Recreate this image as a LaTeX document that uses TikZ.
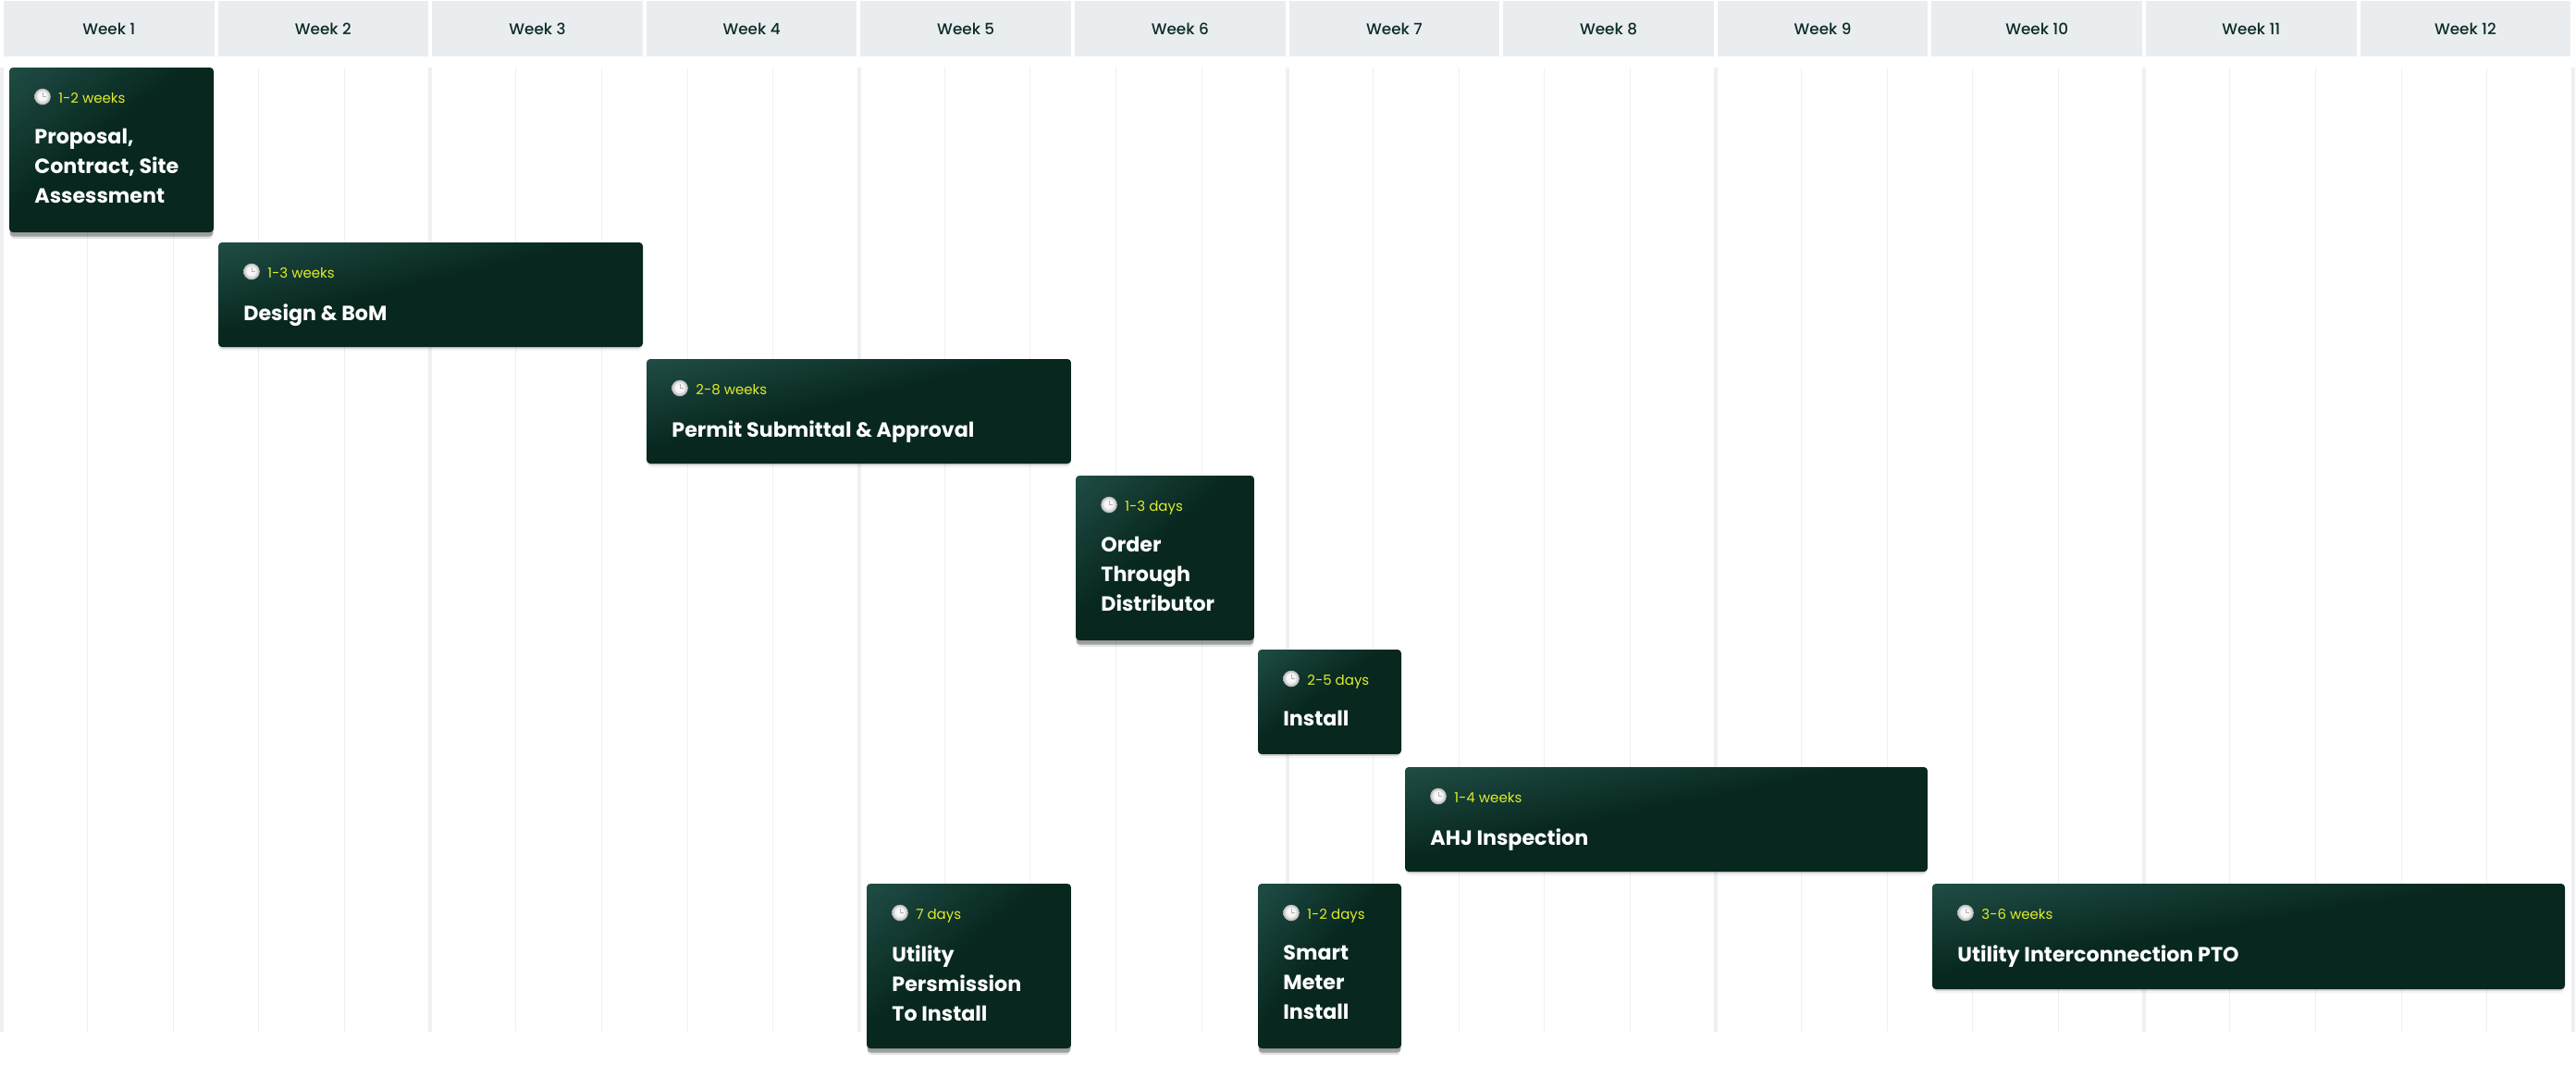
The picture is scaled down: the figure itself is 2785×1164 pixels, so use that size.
\documentclass[tikz,border=0pt]{standalone}
\usepackage{fontspec}
\setmainfont{Poppins}
\newfontfamily\boldf{Poppins Bold}
\newfontfamily\medf{Poppins Medium}
\definecolor{hdr}{HTML}{EAEDF0}
\definecolor{hdrtext}{HTML}{0C2C26}
\definecolor{gridc}{HTML}{EEF0F3}
\definecolor{cardA}{HTML}{1F4C44}
\definecolor{cardB}{HTML}{07271F}
\definecolor{durc}{HTML}{E2EC2A}
\pgfdeclarehorizontalshading{cardgrad}{100bp}{color(0bp)=(cardA); color(15bp)=(cardA); color(46bp)=(cardB); color(100bp)=(cardB)}
\pgfdeclareradialshading{clockball}{\pgfpoint{-2bp}{3bp}}{color(0bp)=(white); color(14bp)=(white!95!black); color(25bp)=(black!30); color(50bp)=(black!30)}
\tikzset{
  x=0.5pt,y=-0.5pt,
  weekhdr/.style={fill=hdr,inner sep=0pt,font=\medf\fontsize{8.4pt}{11pt}\selectfont,text=hdrtext},
  minorline/.style={draw=gridc,line width=0.5pt},
  majorline/.style={draw=gridc,line width=2pt},
  cardbox/.style={inner sep=0pt,rounded corners=2pt},
  durtext/.style={anchor=base west,inner sep=0pt,text=durc,font=\fontsize{7.5pt}{9pt}\selectfont},
  titletext/.style={anchor=north west,inner sep=0pt,align=left,text=white,font=\boldf\fontsize{11.1pt}{16pt}\selectfont},
  clockface/.style={circle,inner sep=0pt,minimum size=8.8pt,shading=clockball},
}
% name, x1, y1, x2, y2, shadow strength (opacity of the near shadow), duration, title
\newcommand{\gcard}[8]{%
  \pgfmathsetmacro{\cw}{(#4-#2)*0.5}%
  \pgfmathsetmacro{\ch}{(#5-#3)*0.5}%
  \pgfmathsetmacro{\off}{#6*15}%
  \fill[black,fill opacity=#6*0.35,rounded corners=2pt] (#2+1,#3+8) rectangle (#4-1,#5+\off+2.5);
  \fill[black,fill opacity=#6,rounded corners=2pt] (#2+0.5,#3+8) rectangle (#4-0.5,#5+\off);
  \begin{scope}
    \clip[rounded corners=2pt] (#2,#3) rectangle (#4,#5);
    \shade[transform canvas={shift={(#2,#5)},xscale=\cw/100,yscale=\ch/100},shading=cardgrad,shading angle=-45] (0pt,0pt) rectangle (100pt,100pt);
  \end{scope}
  \node[cardbox,minimum width=\cw pt,minimum height=\ch pt] (#1) at ({(#2+#4)/2},{(#3+#5)/2}) {};
  \node[clockface] (#1c) at ({#2+36},{#3+31.5}) {};
  \draw[black!30,line width=0.2pt] (#1c.center) -- ++(0,-5) (#1c.center) -- ++(3.5,0);
  \node[durtext] (#1d) at ({#2+53},{#3+38}) {#7};
  \node[titletext] (#1t) at ({#2+27},{#3+66}) {\vphantom{l}#8};
}
\begin{document}
\begin{tikzpicture}
\useasboundingbox (0,0) rectangle (2785,1164);
\fill[white] (0,0) rectangle (2785,1164);
\foreach \i in {1,...,12}{
  \pgfmathsetmacro{\xa}{4+231.6*(\i-1)}
  \node[weekhdr,minimum width=113.8pt,minimum height=30pt] (w\i) at ({\xa+113.8},31) {Week \i};
}
\foreach \k in {0,...,30}{
  \pgfmathsetmacro{\xx}{2+92.65*\k}
  \pgfmathtruncatemacro{\m}{mod(\k,5)}
  \coordinate (ga\k) at (\xx,73); \coordinate (gb\k) at (\xx,1115);
  \ifnum\m=0
    \draw[majorline] (ga\k) -- (gb\k);
  \else
    \draw[minorline] (ga\k) -- (gb\k);
  \fi
}
\gcard{c1}{10}{73}{231}{251}{0.3}{1-2 weeks}{Proposal,\\Contract, Site\\Assessment}
\gcard{c2}{236}{262}{695}{375}{0.12}{1-3 weeks}{Design \& BoM}
\gcard{c3}{699}{388}{1158}{501}{0.12}{2-8 weeks}{Permit Submittal \& Approval}
\gcard{c4}{1163}{514}{1356}{692}{0.3}{1-3 days}{Order\\Through\\Distributor}
\gcard{c5}{1360}{702}{1515}{815}{0.12}{2-5 days}{Install}
\gcard{c6}{1519}{829}{2084}{942}{0.12}{1-4 weeks}{AHJ Inspection}
\gcard{c7}{937}{955}{1158}{1133}{0.3}{7 days}{Utility\\Persmission\\To Install}
\gcard{c8}{1360}{955}{1515}{1133}{0.3}{1-2 days}{Smart\\Meter\\Install}
\gcard{c9}{2089}{955}{2773}{1069}{0.12}{3-6 weeks}{Utility Interconnection PTO}
\end{tikzpicture}
\end{document}
